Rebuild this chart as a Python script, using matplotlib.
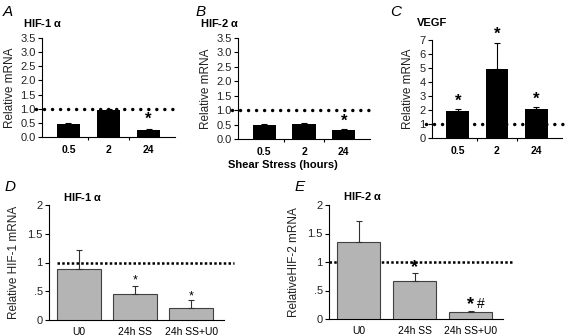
import matplotlib
matplotlib.use("Agg")
import matplotlib.pyplot as plt

plt.rcParams["font.family"] = ["Liberation Sans", "DejaVu Sans"]

W, H = 569, 336

# top row: shear stress time course
times = ["0.5", "2", "24"]
hif1_time = [0.47, 0.97, 0.26]
hif1_time_err = [0.03, 0.03, 0.03]
hif2_time = [0.48, 0.53, 0.32]
hif2_time_err = [0.03, 0.04, 0.03]
vegf_time = [1.9, 4.9, 2.1]
vegf_time_err = [0.2, 1.9, 0.15]

# bottom row: U0 treatment
groups = ["U0", "24h SS", "24h SS+U0"]
hif1_u0 = [0.89, 0.46, 0.21]
hif1_u0_err = [0.32, 0.14, 0.13]
hif2_u0 = [1.35, 0.67, 0.12]
hif2_u0_err = [0.37, 0.14, 0.02]


def px_axes(fig, left, right, top, bottom):
    return fig.add_axes([left / W, 1 - bottom / H, (right - left) / W, (bottom - top) / H])


def style_axes(ax):
    for s in ["top", "right"]:
        ax.spines[s].set_visible(False)
    ax.spines["left"].set_linewidth(0.8)
    ax.spines["bottom"].set_linewidth(0.8)
    ax.tick_params(axis="y", direction="out", length=3, width=0.8, labelsize=8,
                   pad=1.5, labelcolor="#222222")


def put_ylabel(ax, box, text, center_x):
    ax.set_ylabel(text, fontsize=8.5, color="#222222")
    # label anchor is its right edge (rotated text)
    ax.yaxis.set_label_coords((center_x + 5 - box[0]) / (box[1] - box[0]), 0.5)


def put_title(fig, xy, text, letter, letter_xy):
    fig.text(xy[0] / W, 1 - xy[1] / H, text, fontsize=8, fontweight="bold", va="center")
    fig.text(letter_xy[0] / W, 1 - letter_xy[1] / H, letter, fontsize=11, style="italic",
             va="center")


def time_panel(fig, box, vals, errs, ylim, yticks, ylabels, title, letter, stars,
               title_xy, letter_xy, ylabel_x):
    ax = px_axes(fig, *box)
    style_axes(ax)
    x = range(len(times))
    ax.bar(x, vals, width=0.58, color="black", zorder=3)
    ax.errorbar(x, vals, yerr=[[0] * 3, errs], fmt="none", ecolor="black",
                elinewidth=0.8, capsize=2, capthick=0.8, zorder=4, clip_on=False)
    ax.set_xlim(-0.66, 2.66)
    ax.set_ylim(*ylim)
    ax.set_yticks(yticks)
    ax.set_yticklabels(ylabels)
    ax.set_xticks([0.5, 1.5], minor=True)
    ax.tick_params(axis="x", which="minor", length=2.5, width=0.8)
    ax.set_xticks(list(x))
    ax.set_xticklabels(times, fontweight="bold", fontsize=7.5)
    ax.tick_params(axis="x", which="major", length=0, pad=6)
    ax.plot([-0.82, 2.75], [1, 1], color="black", lw=2.5,
            linestyle=(0, (0.01, 2.3)), dash_capstyle="round", zorder=2, clip_on=False)
    for i, y in stars:
        ax.text(i, y, "*", ha="center", va="center", fontsize=12, fontweight="bold",
                clip_on=False)
    put_ylabel(ax, box, "Relative mRNA", ylabel_x)
    put_title(fig, title_xy, title, letter, letter_xy)
    return ax


def u0_panel(fig, box, vals, errs, ylabel, title, letter, stars, title_xy, letter_xy,
             ylabel_x, line_x):
    ax = px_axes(fig, *box)
    style_axes(ax)
    x = range(len(groups))
    ax.bar(x, vals, width=0.78, color="#b4b4b4", edgecolor="#404040", linewidth=0.8,
           zorder=3)
    ax.errorbar(x, vals, yerr=[[0] * 3, errs], fmt="none", ecolor="#303030",
                elinewidth=0.8, capsize=2, capthick=0.8, zorder=4)
    ax.set_xlim(-0.53, 2.58)
    ax.set_ylim(0, 2)
    ax.set_yticks([0, 0.5, 1, 1.5, 2])
    ax.set_yticklabels(["0", ".5", "1", "1.5", "2"])
    ax.set_xticks(list(x))
    ax.set_xticklabels(groups, fontsize=7.5)
    ax.tick_params(axis="x", length=0, pad=5)
    ax.plot(line_x, [1, 1], color="black", lw=1.8, linestyle=(0, (1, 0.9)),
            zorder=2, clip_on=False)
    for i, y, s, fs, fw in stars:
        ax.text(i, y, s, ha="center", va="center", fontsize=fs, fontweight=fw,
                clip_on=False)
    put_ylabel(ax, box, ylabel, ylabel_x)
    put_title(fig, title_xy, title, letter, letter_xy)
    return ax


fig = plt.figure(figsize=(W / 100, H / 100), dpi=100)

ticks35 = [0, 0.5, 1, 1.5, 2, 2.5, 3, 3.5]
labels35 = [f"{t:.1f}" for t in ticks35]

time_panel(fig, (42, 175, 38, 137), hif1_time, hif1_time_err, (0, 3.5), ticks35, labels35,
           "HIF-1 $\\mathregular{\\alpha}$", "A", [(2, 0.62)], (23, 23), (3, 12), 11)
time_panel(fig, (238, 370, 38, 139), hif2_time, hif2_time_err, (0, 3.5), ticks35, labels35,
           "HIF-2 $\\mathregular{\\alpha}$", "B", [(2, 0.62)], (200, 23), (196, 12), 207)
time_panel(fig, (432, 562, 40, 138), vegf_time, vegf_time_err, (0, 7), list(range(8)),
           [str(t) for t in range(8)], "VEGF", "C", [(0, 2.6), (1, 7.4), (2, 2.75)],
           (417, 23), (390, 12), 409)

fig.text(283 / W, 1 - 165 / H, "Shear Stress (hours)", fontsize=8, fontweight="bold",
         ha="center", va="center")

u0_panel(fig, (49, 224, 205, 320), hif1_u0, hif1_u0_err, "Relative HIF-1 mRNA",
         "HIF-1 $\\mathregular{\\alpha}$", "D",
         [(1, 0.68, "*", 9, "normal"), (2, 0.41, "*", 9, "normal")],
         (63, 197), (5, 187), 15, [-0.39, 2.75])
u0_panel(fig, (329, 503, 205, 319), hif2_u0, hif2_u0_err, "RelativeHIF-2 mRNA",
         "HIF-2 $\\mathregular{\\alpha}$", "E",
         [(1, 0.9, "*", 13, "bold"), (2, 0.26, "*", 13, "bold"),
          (2.18, 0.27, "#", 10, "normal")],
         (343, 196), (295, 187), 295, [-0.53, 2.75])

fig.savefig("out.png", dpi=100)
